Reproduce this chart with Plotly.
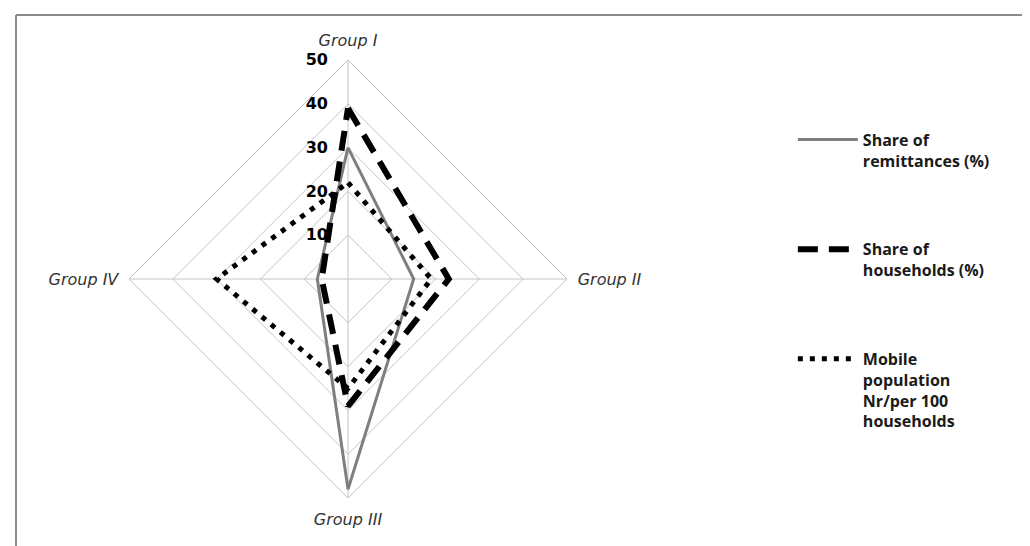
import plotly.graph_objects as go

groups = ['Group I', 'Group II', 'Group III', 'Group IV']
remittances = [30, 15, 48, 7]
households = [39, 23, 29, 6]
mobile = [22, 19, 25, 30]
radial_ticks = [10, 20, 30, 40, 50]

series_names = ['Share of<br>remittances (%)',
                'Share of<br>households (%)',
                'Mobile<br>population<br>Nr/per 100<br>households']


def closed(vals):
    # close the polygon back to the first group
    return vals + vals[:1]


fig = go.Figure()

fig.add_trace(go.Scatterpolar(r=closed(remittances), theta=closed(groups), name=series_names[0],
                              mode='lines', line=dict(color='#7f7f7f', width=3),
                              legendgroup='a'))
fig.add_trace(go.Scatterpolar(r=closed(households), theta=closed(groups), name=series_names[1],
                              mode='lines', line=dict(color='black', width=6, dash='20px,11px'),
                              legendgroup='b'))
fig.add_trace(go.Scatterpolar(r=closed(mobile), theta=closed(groups), name=series_names[2],
                              mode='lines', line=dict(color='black', width=5, dash='5px,7px'),
                              legendgroup='c'))

cx, cy, rad = 340, 546 - 271, 219
fig.update_layout(
    width=1030, height=546,
    margin=dict(l=0, r=0, t=0, b=0),
    paper_bgcolor='white',
    plot_bgcolor='white',
    polar=dict(
        domain=dict(x=[(cx - rad) / 1030, (cx + rad) / 1030],
                    y=[(cy - rad) / 546, (cy + rad) / 546]),
        gridshape='linear',
        bgcolor='white',
        radialaxis=dict(range=[0, 50], tickvals=radial_ticks, angle=90, tickangle=90,
                        side='counterclockwise', showline=False,
                        ticks='outside', ticklen=14, tickcolor='rgba(0,0,0,0)',
                        gridcolor='#c4c4c4', gridwidth=1,
                        tickfont=dict(family='DejaVu Sans', size=16, color='black', weight='bold')),
        angularaxis=dict(direction='clockwise', rotation=90, categoryorder='array',
                         categoryarray=groups, showline=True, linecolor='#c4c4c4',
                         gridcolor='#c4c4c4', ticks='outside', ticklen=7,
                         tickcolor='rgba(0,0,0,0)',
                         tickfont=dict(family='DejaVu Sans', size=16, color='#333333', style='italic')),
    ),
    legend=dict(x=0.762, y=0.79, xanchor='left', yanchor='top', valign='top',
                itemwidth=60, tracegroupgap=65,
                font=dict(family='Open Sans', size=16, color='#1a1a1a', weight='bold')),
    shapes=[
        dict(type='line', xref='paper', yref='paper', x0=8 / 1030, x1=1, y0=1 - 7 / 546, y1=1 - 7 / 546,
             line=dict(color='#8a8a8a', width=2)),
        dict(type='line', xref='paper', yref='paper', x0=8 / 1030, x1=8 / 1030, y0=0, y1=1 - 7 / 546,
             line=dict(color='#8a8a8a', width=2)),
    ],
)

fig.write_html('out.html')
